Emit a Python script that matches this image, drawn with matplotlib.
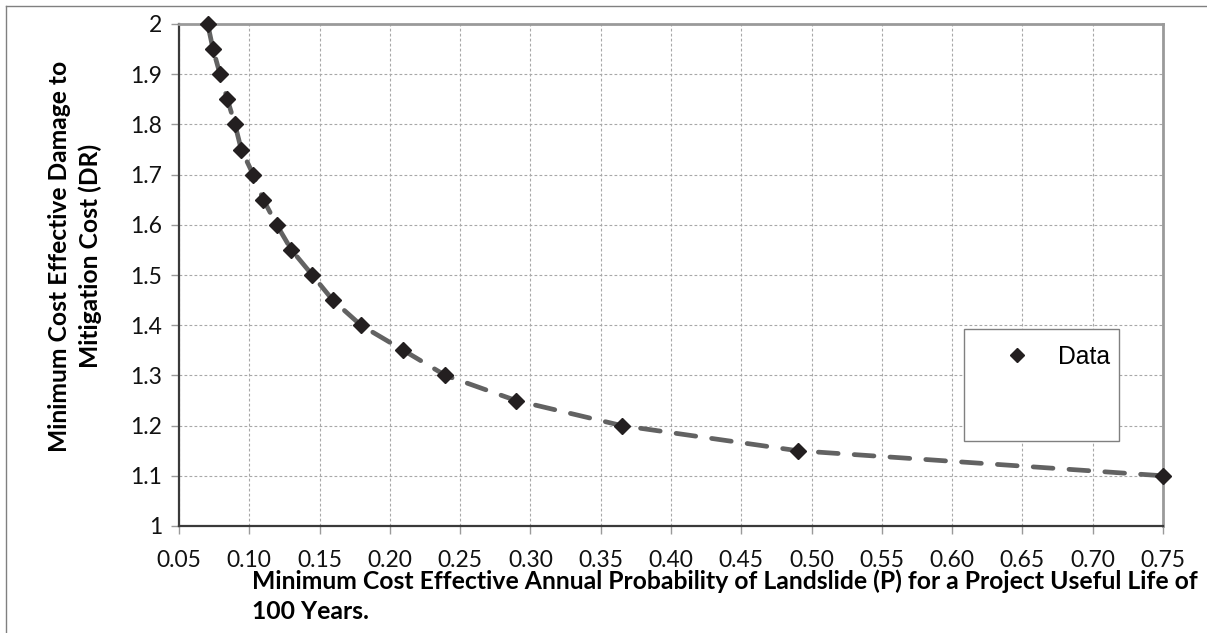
import matplotlib
matplotlib.use("Agg")
import matplotlib.pyplot as plt
from matplotlib.lines import Line2D
from matplotlib.patches import Rectangle

# data
prob = [0.0704, 0.0742, 0.0792, 0.0844, 0.0898, 0.0943, 0.1028, 0.1100, 0.1195,
        0.1300, 0.1448, 0.1594, 0.1794, 0.2096, 0.2395, 0.2897, 0.3650, 0.4900, 0.7500]
dr = [2.00, 1.95, 1.90, 1.85, 1.80, 1.75, 1.70, 1.65, 1.60,
      1.55, 1.50, 1.45, 1.40, 1.35, 1.30, 1.25, 1.20, 1.15, 1.10]

x_ticks = [0.05, 0.10, 0.15, 0.20, 0.25, 0.30, 0.35, 0.40, 0.45, 0.50,
           0.55, 0.60, 0.65, 0.70, 0.75]
y_ticks = [1.0, 1.1, 1.2, 1.3, 1.4, 1.5, 1.6, 1.7, 1.8, 1.9, 2.0]
y_labels = ["1", "1.1", "1.2", "1.3", "1.4", "1.5", "1.6", "1.7", "1.8", "1.9", "2"]

xlabel = ("Minimum Cost Effective Annual Probability of Landslide (P) for a Project Useful Life of\n"
          "100 Years.")
ylabel = "Minimum Cost Effective Damage to\nMitigation Cost (DR)"

COLORS = {
    "marker": "#231f20",
    "line": "#626262",
    "grid": "#a8a8a8",
    "dark_spine": "#3a3a3a",
    "light_spine": "#9a9a9a",
    "frame": "#808080",
}

W, H = 1207, 633
fig = plt.figure(figsize=(W / 100, H / 100), dpi=100, facecolor="white")
ax = fig.add_axes([179 / W, 1 - 526 / H, (1163 - 179) / W, (526 - 24) / H])

# dashed trend line + diamond markers
ax.plot(prob, dr, color=COLORS["line"], lw=3.4, linestyle=(0, (4.2, 3.4)),
        dash_capstyle="round", zorder=3)
ax.plot(prob, dr, linestyle="none", marker="D", ms=7.8, color=COLORS["marker"],
        zorder=4, clip_on=False)

ax.set_xlim(0.05, 0.75)
ax.set_ylim(1.0, 2.0)
ax.set_xticks(x_ticks)
ax.set_xticklabels([f"{v:.2f}" for v in x_ticks])
ax.set_yticks(y_ticks)
ax.set_yticklabels(y_labels)

ax.grid(True, color=COLORS["grid"], lw=0.8, linestyle=(0, (2.5, 2)))
ax.set_axisbelow(True)

for side in ("left", "bottom"):
    ax.spines[side].set_color(COLORS["dark_spine"])
    ax.spines[side].set_linewidth(1.6)
for side in ("top", "right"):
    ax.spines[side].set_color(COLORS["light_spine"])
    ax.spines[side].set_linewidth(2.0)

ax.tick_params(axis="both", direction="out", length=6, width=1,
               color=COLORS["light_spine"], labelsize=16.5, labelcolor="#111111",
               pad=6)
for lab in ax.get_xticklabels() + ax.get_yticklabels():
    lab.set_fontfamily("Lato")
ax.tick_params(axis="x", pad=11)

# legend box (Excel keeps an empty second row)
ax.add_patch(Rectangle((0.7978, 0.1693), 0.9553 - 0.7978, 0.3924 - 0.1693,
                       transform=ax.transAxes, facecolor="white",
                       edgecolor=COLORS["frame"], lw=1, zorder=5))
handle = Line2D([], [], linestyle="none", marker="D", ms=7.0, color=COLORS["marker"])
leg = ax.legend([handle], ["Data"], loc="center left", bbox_to_anchor=(0.8389, 0.3367),
                frameon=False, borderpad=0, borderaxespad=0, handlelength=1.0,
                handletextpad=1.18, prop={"family": "Liberation Sans", "size": 17.8})
leg.set_zorder(6)

# axis titles
fig.text(252 / W, 1 - 596 / H, xlabel, ha="left", va="center", fontsize=17.8,
         fontweight="bold", family="Lato", linespacing=1.35)
fig.text(75 / W, 1 - 256 / H, ylabel, ha="center", va="center",
         rotation=90, fontsize=17.7, fontweight="bold", family="Lato",
         multialignment="center", linespacing=1.35)

# outer chart frame
fig.add_artist(Line2D([6 / W, 6 / W], [0, 1 - 6 / H], color=COLORS["frame"], lw=1))
fig.add_artist(Line2D([6 / W, 1], [1 - 6 / H, 1 - 6 / H], color=COLORS["frame"], lw=1))

fig.savefig("out.png", dpi=100, facecolor="white")
